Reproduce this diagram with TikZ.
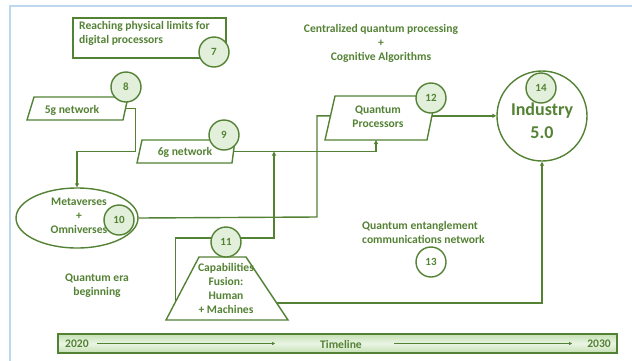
\documentclass[tikz,border=0pt]{standalone}
\usepackage{fontspec}
\setmainfont{Carlito}
\usetikzlibrary{shapes.geometric,arrows.meta,calc}
\definecolor{dg}{HTML}{548235}
\definecolor{lg}{HTML}{E2EFDA}
\definecolor{barA}{HTML}{C5E0B4}
\definecolor{barB}{HTML}{EAF4E4}
\definecolor{frameblue}{HTML}{BDD7EE}
\newcommand\lblfont{\fontsize{11.6}{14}\selectfont\bfseries}
\newcommand\numfont{\fontsize{11}{12}\selectfont\bfseries}
\tikzset{
  lw/.style={line width=1.4pt},
  link/.style={draw=dg, lw},
  arr/.style={link, -{Triangle[length=4pt,width=4pt]}},
  thinarr/.style={draw=dg, line width=0.4pt, -{Triangle[length=3pt,width=3pt]}},
  outline/.style={draw=dg, fill=white, lw, line join=miter},
  numc/.style={circle, draw=dg, fill=lg, lw, minimum size=30pt,
    inner sep=0pt, text=dg, font=\numfont},
  lbl/.style={text=dg, font=\lblfont, align=center, inner sep=0pt},
}
\begin{document}
\begin{tikzpicture}[x=1pt,y=-1pt]
\useasboundingbox (0,0) rectangle (632,360);
% page frame
\draw[frameblue, line width=2pt] (10,361) -- (10,6) -- (633,6);

% box 7
\node[draw=dg, lw, minimum width=153pt, minimum height=40pt, inner sep=0pt] (box7) at (149.5,38) {};
\node[lbl, align=left, anchor=north west] (t7) at (79,21.5) {Reaching physical limits for\\digital processors};
\node[numc] (c7) at (214,52) {7};

% headline texts
\node[lbl] (tcent) at (381,43) {Centralized quantum processing\\+\\Cognitive Algorithms};
\node[lbl, align=left, anchor=west] (tent) at (362,232) {Quantum entanglement\\communications network};
\node[lbl] (tera) at (97,286) {Quantum era\\beginning};

% 5g network (parallelogram)
\coordinate (g5bl) at (27,120);  \coordinate (g5tl) at (34,97);
\coordinate (g5tr) at (128,97);  \coordinate (g5br) at (123,120);
\draw[outline] (g5bl) -- (g5tl) -- (g5tr) -- (g5br) -- cycle;
\coordinate (g5e) at ($(g5br)!0.5!(g5tr)$);
\node[lbl] (g5) at (72,110) {5g network};

% 6g network (parallelogram)
\coordinate (g6bl) at (137,163); \coordinate (g6tl) at (142,140);
\coordinate (g6tr) at (235,140); \coordinate (g6br) at (232,163);
\draw[outline] (g6bl) -- (g6tl) -- (g6tr) -- (g6br) -- cycle;
\coordinate (g6e) at ($(g6br)!0.5!(g6tr)$);
\coordinate (g6w) at ($(g6bl)!0.5!(g6tl)$);
\node[lbl] (g6) at (185,152) {6g network};

% quantum processors (parallelogram)
\coordinate (qpbl) at (325,140); \coordinate (qptl) at (335,96);
\coordinate (qptr) at (436,96);  \coordinate (qpbr) at (427,140);
\draw[outline] (qpbl) -- (qptl) -- (qptr) -- (qpbr) -- cycle;
\coordinate (qpe) at ($(qpbr)!0.55!(qptr)$);
\coordinate (qpw) at ($(qpbl)!0.55!(qptl)$);
\coordinate (qps) at (376,140);
\node[lbl] (qp) at (378,117) {Quantum\\Processors};

% metaverses (ellipse)
\node[ellipse, draw=dg, fill=white, lw, minimum width=122pt, minimum height=60pt,
      inner sep=0pt] (meta) at (77,218) {};
\node[lbl] (tmeta) at (79,216) {Metaverses\\+\\Omniverses};

% capabilities fusion (trapezoid)
\coordinate (capbl) at (166,320); \coordinate (captl) at (199,257);
\coordinate (captr) at (246,257); \coordinate (capbr) at (288,320);
\draw[outline] (capbl) -- (captl) -- (captr) -- (capbr) -- cycle;
\node[lbl] (cap) at (226,288) {Capabilities\\Fusion:\\Human\\+ Machines};

% industry 5.0
\node[circle, draw=dg, fill=white, lw, minimum size=90pt, inner sep=0pt] (ind) at (542,116) {};
\node[lbl, font=\fontsize{18}{23}\selectfont\bfseries] (tind) at (542,121) {Industry\\5.0};

% connectors
\draw[arr] (g5e) -- ++(10,0) |- (meta.north |- g6w) -- (meta.north);
\draw[arr] (g6e) -| (qps);
\coordinate (j11) at (274,151.5);
\coordinate (capL) at ($(capbl)!0.29!(captl)$);
\coordinate (capR) at ($(capbr)!0.27!(captr)$);
\draw[arr] (capL) |- (274,238) -- (j11);
\draw[link] (meta.east) -- (317,217) |- (qpw);
\draw[arr] (qpe) -- (qpe -| ind.west);
\draw[arr] (capR) -| (ind.south);

% number markers
\node[numc] (c8) at (126,87) {8};
\node[numc] (c9) at (224,135) {9};
\node[numc] (c10) at (119,220) {10};
\node[numc] (c11) at (226,242) {11};
\node[numc] (c12) at (431,98) {12};
\node[numc, fill=white] (c13) at (431,262) {13};
\node[numc] (c14) at (541,88) {14};

% timeline
\shade[top color=barA, bottom color=barA, middle color=barB] (58,334) rectangle (617,353);
\node[draw=dg, lw, minimum width=559pt, minimum height=19pt, inner sep=0pt] (bar) at (337.5,343.5) {};
\node[lbl, anchor=west] (y2020) at (65,344) {2020};
\node[lbl] (tline) at (341,344) {Timeline};
\node[lbl, anchor=east] (y2030) at (611,344) {2030};
\draw[thinarr] (97,343.5) -- (275,343.5);
\draw[thinarr] (394,343.5) -- (572,343.5);
\end{tikzpicture}
\end{document}
